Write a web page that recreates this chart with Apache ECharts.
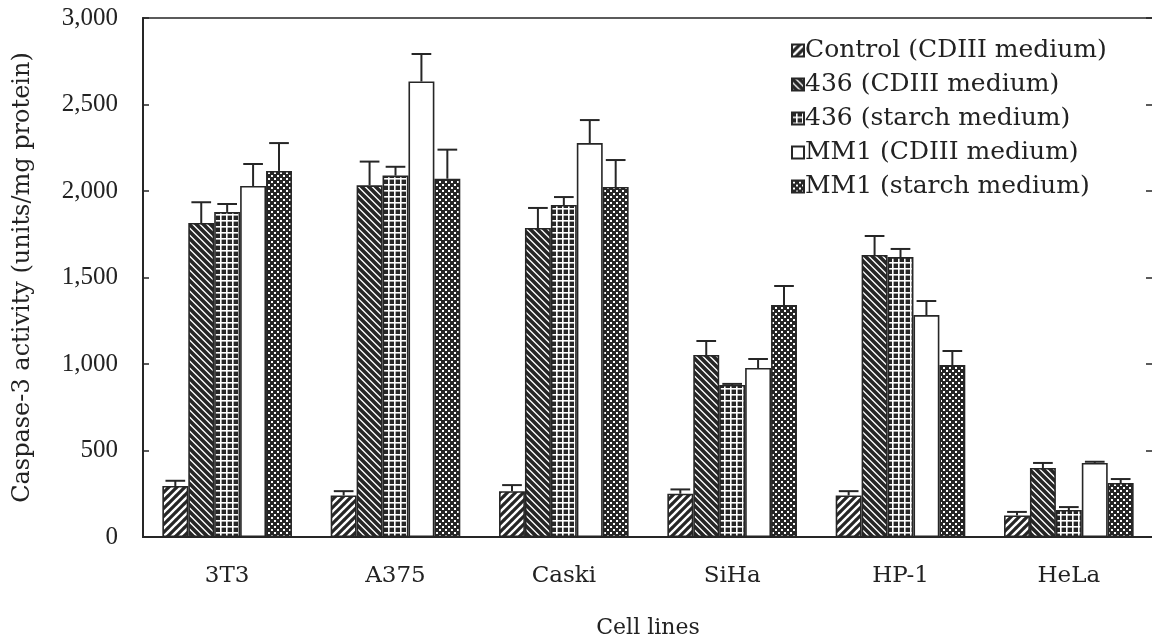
<!DOCTYPE html>
<html>
<head>
<meta charset="utf-8">
<script src="https://cdn.jsdelivr.net/npm/echarts@6/dist/echarts.min.js"></script>
<style>
html,body{margin:0;padding:0;background:#fff;}
#chart{width:1152px;height:641px;}
</style>
</head>
<body>
<div id="chart"></div>
<script>
// ---- data ----
const categories = ['3T3', 'A375', 'Caski', 'SiHa', 'HP-1', 'HeLa'];
const seriesNames = ['Control (CDIII medium)', '436 (CDIII medium)', '436 (starch medium)', 'MM1 (CDIII medium)', 'MM1 (starch medium)'];
const controlCDIII = [295, 240, 265, 250, 240, 125];
const controlCDIIIErr = [30, 25, 35, 25, 25, 20];
const s436CDIII = [1815, 2033, 1786, 1052, 1630, 399];
const s436CDIIIErr = [120, 137, 116, 81, 110, 29];
const s436Starch = [1879, 2089, 1919, 879, 1618, 156];
const s436StarchErr = [46, 51, 46, 6, 47, 17];
const mm1CDIII = [2029, 2633, 2277, 977, 1283, 428];
const mm1CDIIIErr = [127, 159, 133, 52, 81, 7];
const mm1Starch = [2116, 2071, 2023, 1341, 994, 312];
const mm1StarchErr = [161, 168, 156, 110, 81, 23];
const yTicks = [0, 500, 1000, 1500, 2000, 2500, 3000];

const values = [controlCDIII, s436CDIII, s436Starch, mm1CDIII, mm1Starch];
const errors = [controlCDIIIErr, s436CDIIIErr, s436StarchErr, mm1CDIIIErr, mm1StarchErr];

// ---- patterns ----
const INK = '#262626';
function tile(size, draw) {
  const c = document.createElement('canvas');
  c.width = size; c.height = size;
  const ctx = c.getContext('2d');
  draw(ctx, size);
  return { image: c, repeat: 'repeat' };
}
function stripes(dir, p, w) {
  return tile(p, (ctx, s) => {
    ctx.fillStyle = '#fff'; ctx.fillRect(0, 0, s, s);
    ctx.strokeStyle = INK; ctx.lineWidth = w; ctx.lineCap = 'square';
    ctx.beginPath();
    for (let k = -1; k <= 1; k++) {
      if (dir === '/') { ctx.moveTo(k * s, s); ctx.lineTo(k * s + s, 0); }
      else { ctx.moveTo(k * s, 0); ctx.lineTo(k * s + s, s); }
    }
    ctx.stroke();
  });
}
const patControl = stripes('/', 8, 3.2);
const pat436C = stripes('\\', 7, 3.6);
const pat436S = tile(6, (ctx, s) => {
  ctx.fillStyle = INK; ctx.fillRect(0, 0, s, s);
  ctx.fillStyle = '#fff';
  ctx.fillRect(0, 4, s, 1.6);
  ctx.fillRect(4, 0, 1.6, s);
});
const patMM1C = '#ffffff';
const patMM1S = tile(6, (ctx, s) => {
  ctx.fillStyle = INK; ctx.fillRect(0, 0, s, s);
  ctx.fillStyle = '#fff';
  ctx.fillRect(1, 1, 2, 2);
  ctx.fillRect(4, 4, 2, 2);
});
const fills = [patControl, pat436C, pat436S, patMM1C, patMM1S];

const GAP = 0.23;
const SERIF_W = '"DejaVu Serif", serif';
const SERIF_T = '"Liberation Serif", "Times New Roman", serif';

const barSeries = seriesNames.map((name, si) => ({
  type: 'bar',
  name: name,
  data: values[si],
  barGap: '0%',
  barCategoryGap: (GAP * 100) + '%',
  itemStyle: { color: fills[si], borderColor: INK, borderWidth: 1.6 },
  emphasis: { disabled: true },
  z: 2
}));

const errSeries = seriesNames.map((name, si) => ({
  type: 'custom',
  name: 'err' + si,
  silent: true,
  z: 5,
  data: categories.map((c, i) => [i, values[si][i], values[si][i] + errors[si][i]]),
  encode: { x: 0, y: [1, 2] },
  renderItem: (params, api) => {
    const band = api.size([1, 0])[0];
    const bw = band * (1 - GAP) / 5;
    const p0 = api.coord([api.value(0), api.value(1)]);
    const p1 = api.coord([api.value(0), api.value(2)]);
    const x = p0[0] + (si - 2) * bw;
    const cap = bw * 0.38;
    const st = { stroke: INK, lineWidth: 2 };
    return {
      type: 'group', children: [
        { type: 'line', shape: { x1: x, y1: p0[1], x2: x, y2: p1[1] }, style: st },
        { type: 'line', shape: { x1: x - cap, y1: p1[1], x2: x + cap, y2: p1[1] }, style: st }
      ]
    };
  }
}));

const chart = echarts.init(document.getElementById('chart'), null, { renderer: 'canvas' });
chart.setOption({
  animation: false,
  backgroundColor: '#fff',
  grid: { left: 143, right: -1, top: 18, bottom: 104, outerBoundsMode: 'none', containLabel: false, show: true, borderColor: INK, borderWidth: 1.6 },
  legend: {
    data: seriesNames,
    orient: 'vertical',
    left: 786,
    top: 33,
    itemWidth: 12,
    itemHeight: 12,
    itemGap: 9,
    icon: 'rect',
    selectedMode: false,
    textStyle: { fontFamily: SERIF_W, fontSize: 25, color: '#222', lineHeight: 25, padding: [0, 0, 0, -4] }
  },
  xAxis: {
    type: 'category',
    data: categories,
    name: 'Cell lines',
    nameLocation: 'middle',
    nameGap: 80,
    nameTextStyle: { fontFamily: SERIF_W, fontSize: 22, color: '#222' },
    axisLine: { lineStyle: { color: INK, width: 2 } },
    axisTick: { inside: true, length: 6, lineStyle: { color: INK, width: 1.5 } },
    axisLabel: { fontFamily: SERIF_W, fontSize: 23, color: '#222', margin: 28 },
    splitLine: { show: false }
  },
  yAxis: [{
    type: 'value',
    min: 0, max: 3000, interval: 500,
    name: 'Caspase-3 activity (units/mg protein)',
    nameLocation: 'middle',
    nameGap: 108,
    nameTextStyle: { fontFamily: SERIF_W, fontSize: 24, color: '#222' },
    axisLine: { show: true, lineStyle: { color: INK, width: 2 } },
    axisTick: { show: true, inside: true, length: 6, lineStyle: { color: INK, width: 1.5 } },
    axisLabel: {
      fontFamily: SERIF_T, fontSize: 25, color: '#222', margin: 25,
      formatter: v => yTicks.indexOf(v) >= 0 ? v.toLocaleString('en-US') : ''
    },
    splitLine: { show: false }
  }, {
    type: 'value',
    position: 'right',
    min: 0, max: 3000, interval: 500,
    axisLine: { show: true, lineStyle: { color: INK, width: 1.6 } },
    axisTick: { show: true, inside: true, length: 7, lineStyle: { color: INK, width: 1.5 } },
    axisLabel: { show: false },
    splitLine: { show: false }
  }],
  series: barSeries.concat(errSeries)
});
</script>
</body>
</html>
